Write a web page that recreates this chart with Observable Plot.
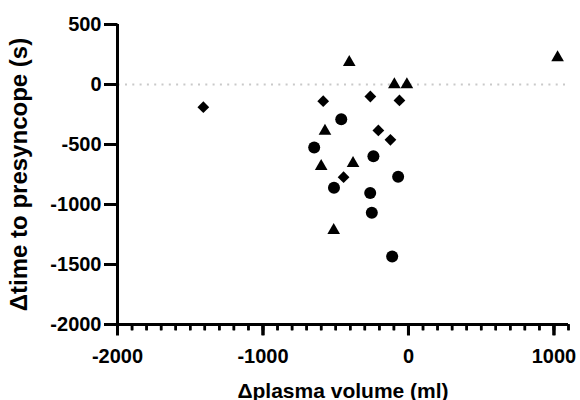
<!DOCTYPE html>
<html>
<head>
<meta charset="utf-8">
<script src="https://cdn.jsdelivr.net/npm/d3@7"></script>
<script src="https://cdn.jsdelivr.net/npm/@observablehq/plot@0.6"></script>
<style>
  html, body { margin: 0; padding: 0; background: #fff; overflow: hidden; }
  g[aria-label="x-axis label"] text { font-size: 21px; }
  g[aria-label="y-axis label"] text { font-size: 24px; }
</style>
</head>
<body>
<div id="chart"></div>
<script>
// Diamond series
const diamondX = [-1410, -586, -262, -62, -207, -124, -446];
const diamondY = [-189, -139, -100, -133, -383, -461, -772];
// Circle series
const circleX = [-462, -648, -241, -71, -512, -263, -252, -112];
const circleY = [-289, -525, -597, -769, -861, -905, -1069, -1433];
// Triangle series
const triangleX = [-407, -97, -11, 1025, -574, -600, -381, -514];
const triangleY = [185, 0, 0, 225, -389, -681, -656, -1215];

const xMajorTicks = [-2000, -1000, 0, 1000];
const xMinorTicks = [-2000, -1900, -1800, -1700, -1600, -1500, -1400, -1300, -1200, -1100,
  -1000, -900, -800, -700, -600, -500, -400, -300, -200, -100,
  0, 100, 200, 300, 400, 500, 600, 700, 800, 900, 1000, 1100];
const yTicks = [500, 0, -500, -1000, -1500, -2000];
const xDomain = [-2000, 1100];
const yDomain = [-2000, 500];
const zeroLine = [0];
const xTitle = "Δplasma volume (ml)";
const yTitle = "Δtime to presyncope (s)";

const idx = a => a.map((_, i) => i);

// tick shapes drawn as small filled rectangles (pixel sizes)
const yTickShape = { draw(ctx) { ctx.rect(-13, -1.5, 13, 3); } };
const xMajorShape = { draw(ctx) { ctx.rect(-1.5, 0, 3, 11); } };
const xMinorShape = { draw(ctx) { ctx.rect(-1.25, 0, 2.5, 6); } };

const chart = Plot.plot({
  width: 580,
  height: 400,
  marginLeft: 117,
  marginRight: 12,
  marginTop: 24,
  marginBottom: 76,
  style: "font-family: 'Liberation Sans', Arial, Helvetica, sans-serif; font-weight: bold; color: #000; background: #fff;",
  x: { domain: xDomain },
  y: { domain: yDomain },
  marks: [
    Plot.ruleY(zeroLine, { stroke: "#c9c9c9", strokeWidth: 2, strokeDasharray: "2,5.3", strokeDashoffset: -8 }),
    Plot.axisX({ ticks: xMinorTicks, tickSize: 6, strokeWidth: 2.5, tickFormat: () => "", label: null }),
    Plot.axisX({ ticks: xMajorTicks, tickSize: 11, tickPadding: 13, strokeWidth: 3, fontSize: 20, fontWeight: "bold",
      tickFormat: d => String(d), label: xTitle, labelAnchor: "center", labelOffset: 73, labelArrow: "none" }),
    Plot.axisY({ ticks: yTicks, tickSize: 13, tickPadding: 3, strokeWidth: 3, fontSize: 20, fontWeight: "bold",
      tickFormat: d => String(d), label: yTitle, labelAnchor: "center", labelOffset: 108, labelArrow: "none" }),
    Plot.ruleX([xDomain[0]], { strokeWidth: 3, stroke: "#000" }),
    Plot.ruleY([yDomain[0]], { strokeWidth: 3, stroke: "#000" }),
    Plot.dot(xMinorTicks, { x: d => d, y: () => yDomain[0], symbol: xMinorShape, r: 1, fill: "#000", stroke: "none" }),
    Plot.dot(xMajorTicks, { x: d => d, y: () => yDomain[0], symbol: xMajorShape, r: 1, fill: "#000", stroke: "none" }),
    Plot.dot(yTicks, { x: () => xDomain[0], y: d => d, symbol: yTickShape, r: 1, fill: "#000", stroke: "none" }),
    Plot.dot(idx(diamondX), { x: diamondX, y: diamondY, symbol: "diamond2", r: 5.3, fill: "#000", stroke: "none" }),
    Plot.dot(idx(circleX), { x: circleX, y: circleY, symbol: "circle", r: 6, fill: "#000", stroke: "none" }),
    Plot.dot(idx(triangleX), { x: triangleX, y: triangleY, symbol: "triangle", r: 4.7, fill: "#000", stroke: "none" })
  ]
});
document.getElementById("chart").appendChild(chart);
</script>
</body>
</html>
